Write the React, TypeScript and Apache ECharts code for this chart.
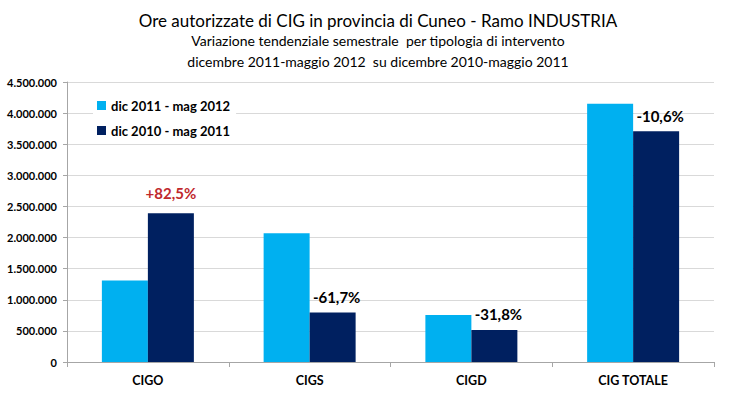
import React, { useEffect, useRef } from "react";
import * as echarts from "echarts";

const categories = ["CIGO", "CIGS", "CIGD", "CIG TOTALE"];
const seriesNames = ["dic 2011 - mag 2012", "dic 2010 - mag 2011"];
const valuesRecent = [1310000, 2070000, 755000, 4150000];
const valuesPrevious = [2390000, 795000, 515000, 3710000];
const changeLabels = ["+82,5%", "-61,7%", "-31,8%", "-10,6%"];
const changeColors = ["#C0282D", "#000000", "#000000", "#000000"];
const titleText = "Ore autorizzate di CIG in provincia di Cuneo - Ramo INDUSTRIA";
const subtitleText = "Variazione tendenziale semestrale  per tipologia di intervento\ndicembre 2011-maggio 2012  su dicembre 2010-maggio 2011";

const FONT = "Lato, 'Open Sans', sans-serif";

function fmt(v: number): string {
  return String(Math.round(v)).replace(/\B(?=(\d{3})+(?!\d))/g, ".");
}

export default function App() {
  const ref = useRef<HTMLDivElement>(null);
  useEffect(() => {
    if (!ref.current) return;
    const chart = echarts.init(ref.current, null, { renderer: "svg" });
    chart.setOption({
      animation: false,
      backgroundColor: "#ffffff",
      title: {
        text: titleText,
        subtext: subtitleText,
        left: "center",
        top: 7,
        itemGap: 1,
        textStyle: { fontFamily: FONT, fontSize: 17, fontWeight: "normal", color: "#000" },
        subtextStyle: { fontFamily: FONT, fontSize: 14, color: "#000", lineHeight: 21 },
      },
      legend: {
        orient: "vertical",
        left: 93,
        top: 97,
        itemWidth: 9,
        itemHeight: 9,
        itemGap: 12,
        icon: "rect",
        backgroundColor: "#ffffff",
        padding: [2, 6, 2, 4],
        textStyle: { fontFamily: FONT, fontSize: 13, fontWeight: "bold", color: "#000" },
        data: seriesNames,
      },
      grid: { left: 67, right: 42, top: 82, bottom: 35 },
      xAxis: {
        type: "category",
        data: categories,
        axisLine: { lineStyle: { color: "#a6a6a6" } },
        axisTick: { show: true, length: 5, lineStyle: { color: "#a6a6a6" } },
        axisLabel: { fontFamily: FONT, fontSize: 12.5, fontWeight: "bold", color: "#000", margin: 12 },
      },
      yAxis: {
        type: "value",
        min: 0,
        max: 4500000,
        interval: 500000,
        axisLine: { show: true, lineStyle: { color: "#a6a6a6" } },
        axisTick: { show: true, length: 4, lineStyle: { color: "#a6a6a6" } },
        splitLine: { lineStyle: { color: "#d9d9d9" } },
        axisLabel: {
          fontFamily: FONT,
          fontSize: 11,
          fontWeight: "bold",
          color: "#000",
          margin: 10,
          formatter: (v: number) => fmt(v),
        },
      },
      series: [
        {
          name: seriesNames[0],
          type: "bar",
          data: valuesRecent,
          barWidth: 46,
          barGap: "0%",
          itemStyle: { color: "#00B0F0" },
        },
        {
          name: seriesNames[1],
          type: "bar",
          data: valuesPrevious.map((v, i) => ({
            value: v,
            label: {
              show: true,
              position: "top",
              distance: i === 0 ? 13 : 8,
              offset: [i === 0 ? 0 : 4, 0],
              formatter: changeLabels[i],
              color: changeColors[i],
              fontFamily: FONT,
              fontSize: 15,
              fontWeight: "bold",
            },
          })),
          barWidth: 46,
          barGap: "0%",
          itemStyle: { color: "#002060" },
        },
      ],
    });
    return () => chart.dispose();
  }, []);
  return (
    <div
      ref={ref}
      style={{ position: "absolute", left: 0, top: 0, width: 756, height: 397 }}
    />
  );
}
